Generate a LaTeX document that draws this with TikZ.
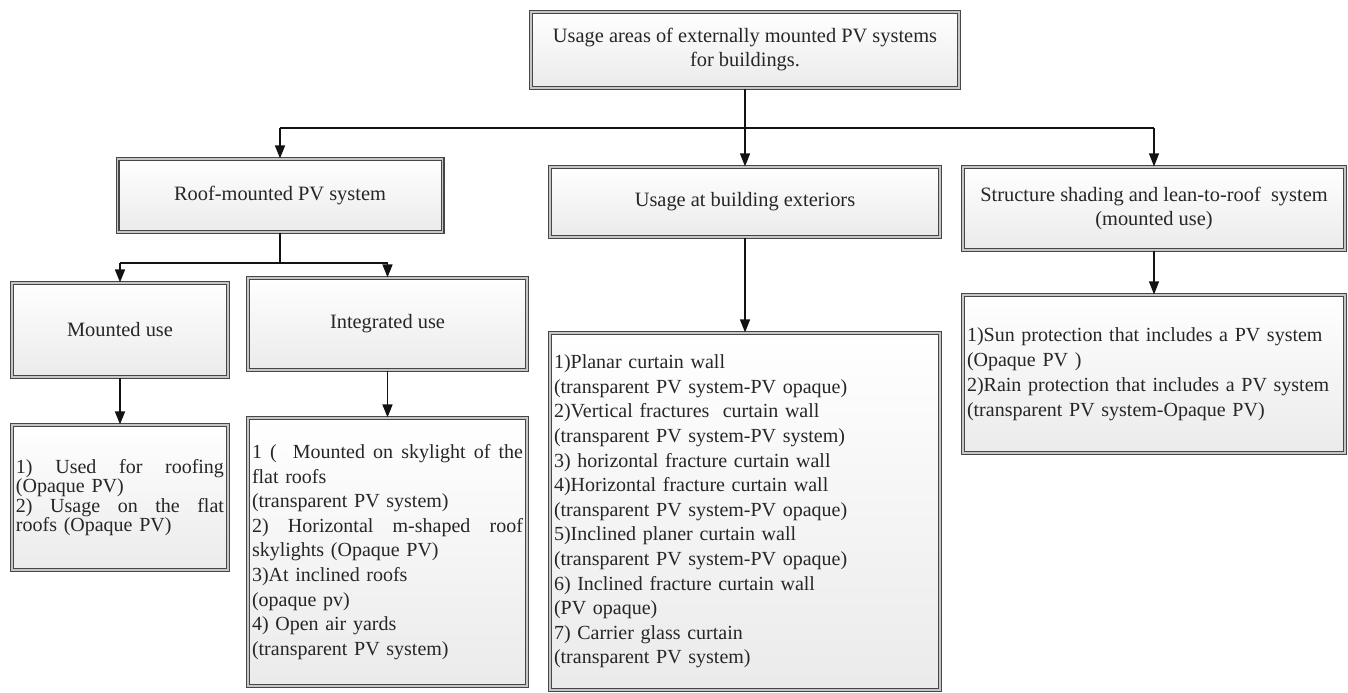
\documentclass[tikz,border=0pt]{standalone}
\usepackage{fontspec}
\setmainfont{Liberation Serif}
\usetikzlibrary{arrows.meta}

\newcommand{\jline}[2]{\noindent\hbox to #1{\spaceskip=0.25em plus 1fil\relax #2}}

\begin{document}
\begin{tikzpicture}[x=0.5pt, y=-0.5pt,
    box/.style={draw=gray!55!black, line width=0.6pt, double=gray!45, double distance=0.8pt,
        top color=white, bottom color=gray!16, align=center, inner sep=2pt,
        text=black!85, font=\fontsize{10.2}{12}\selectfont},
    listbox/.style={box, align=left, font=\fontsize{10}{12.3}\selectfont},
    link/.style={draw=gray!15!black, line width=0.7pt},
    arr/.style={link, -{Triangle[length=6.5pt, width=5pt]}}]
\useasboundingbox (0,0) rectangle (1348,692);

% main topic
\node[box, minimum width=214pt, minimum height=38pt] (usage) at (745,50)
    {Usage areas of externally mounted PV systems\\for buildings.};

% first level
\node[box, minimum width=162.5pt, minimum height=36.5pt] (roof) at (280,195.5) {Roof-mounted PV system};
\node[box, minimum width=195pt, minimum height=35pt] (exterior) at (745,202) {Usage at building exteriors};
\node[box, minimum width=191pt, minimum height=41.5pt] (shading) at (1154,208.5)
    {Structure shading and lean-to-roof\ \ system\\(mounted use)};

% roof branches
\node[box, minimum width=108pt, minimum height=47pt] (mounted) at (120,330) {Mounted use};
\node[box, minimum width=139.5pt, minimum height=46pt] (integrated) at (387.5,324) {Integrated use};

% lists
\node[listbox, text width=104pt, minimum height=72.5pt, font=\fontsize{10}{9.6}\selectfont] (mountedlist) at (120,497.5)
    {\jline{104pt}{1) Used for roofing}\\(Opaque PV)\\\jline{104pt}{2) Usage on the flat}\\roofs (Opaque PV)};
\node[listbox, text width=135.5pt, minimum height=134pt] (integratedlist) at (387.5,552)
    {\jline{135.5pt}{1 (\ \ Mounted on skylight of the}\\flat roofs\\(transparent PV system)\\
     \jline{135.5pt}{2) Horizontal m-shaped roof}\\skylights (Opaque PV)\\3)At inclined roofs\\(opaque pv)\\
     4) Open air yards\\(transparent PV system)};
\node[listbox, text width=191pt, minimum height=178.5pt] (exteriorlist) at (745,511.5)
    {1)Planar curtain wall\\(transparent PV system-PV opaque)\\
     2)Vertical fractures\ \ curtain wall\\(transparent PV system-PV system)\\
     3) horizontal fracture curtain wall\\
     4)Horizontal fracture curtain wall\\(transparent PV system-PV opaque)\\
     5)Inclined planer curtain wall\\(transparent PV system-PV opaque)\\
     6) Inclined fracture curtain wall\\(PV opaque)\\
     7) Carrier glass curtain\\(transparent PV system)};
\node[listbox, text width=187pt, minimum height=79pt, font=\fontsize{10}{12.5}\selectfont] (shadinglist) at (1154,374)
    {1)Sun protection that includes a PV system\\(Opaque PV )\\
     2)Rain protection that includes a PV system\\(transparent PV system-Opaque PV)};

% connectors
\coordinate (fork) at (745,128);
\coordinate (roofsplit) at (280,263);
\draw[arr] (usage) -- (exterior);
\draw[link] (roof.north |- fork) -- (shading.north |- fork);
\draw[arr] (roof.north |- fork) -- (roof);
\draw[arr] (shading.north |- fork) -- (shading);

\draw[link] (roof) -- (roofsplit);
\draw[link] (mounted.north |- roofsplit) -- (integrated.north |- roofsplit);
\draw[arr] (mounted.north |- roofsplit) -- (mounted);
\draw[arr] (integrated.north |- roofsplit) -- (integrated);

\draw[arr] (mounted) -- (mountedlist);
\draw[arr] (integrated) -- (integratedlist);
\draw[arr] (exterior) -- (exteriorlist);
\draw[arr] (shading) -- (shadinglist);
\end{tikzpicture}
\end{document}
